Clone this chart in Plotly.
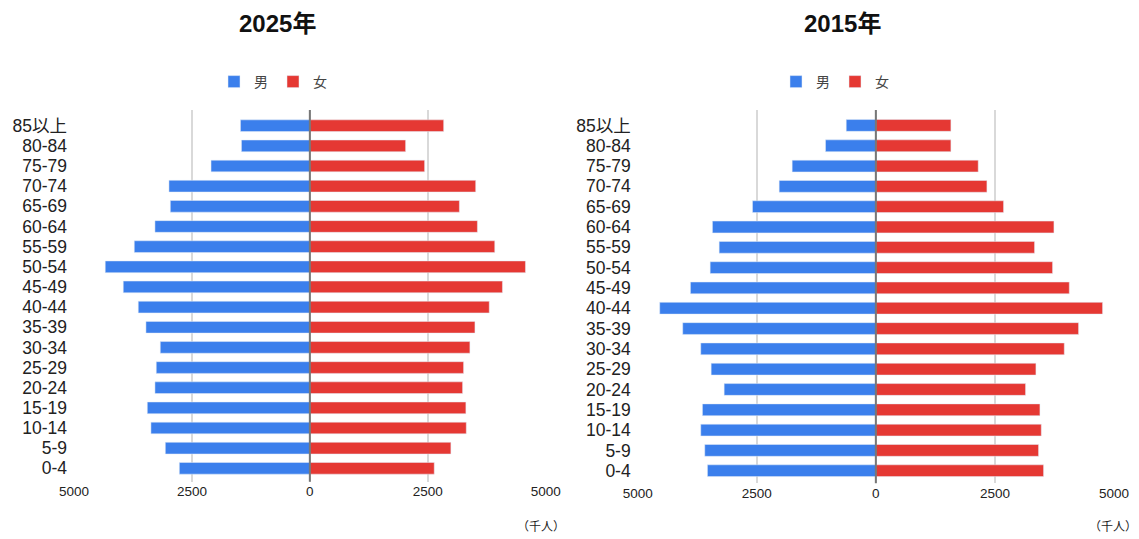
import plotly.graph_objects as go

ages = ["0-4", "5-9", "10-14", "15-19", "20-24", "25-29", "30-34", "35-39", "40-44",
        "45-49", "50-54", "55-59", "60-64", "65-69", "70-74", "75-79", "80-84", "85以上"]

# 2025 (thousand persons), listed from 0-4 upward
male_2025 = [2767, 3064, 3369, 3446, 3284, 3256, 3171, 3475, 3638,
             3956, 4338, 3722, 3284, 2958, 2987, 2095, 1450, 1471]
female_2025 = [2637, 2990, 3316, 3308, 3238, 3259, 3393, 3500, 3803,
               4083, 4571, 3920, 3552, 3170, 3516, 2433, 2030, 2837]

# 2015
male_2015 = [3536, 3592, 3676, 3641, 3185, 3458, 3676, 4055, 4538,
             3893, 3479, 3290, 3431, 2590, 2030, 1757, 1057, 622]
female_2015 = [3521, 3416, 3473, 3445, 3143, 3361, 3956, 4256, 4760,
               4061, 3710, 3332, 3739, 2681, 2332, 2149, 1576, 1576]

tick_vals = [-5000, -2500, 0, 2500, 5000]
tick_text = ["5000", "2500", "0", "2500", "5000"]

BLUE = "#3b7fec"
RED = "#e53833"
FONT = "Liberation Sans, Arial, Noto Sans CJK JP, sans-serif"

# the page body adds an 8px offset; compensate so the screenshot lines up
OFF = 8
W, H = 1139 - OFF, 539 - OFF


def px(v):
    return (v - OFF) / W


def py(v):
    return 1 - (v - OFF) / H


fig = go.Figure()

fig.add_trace(go.Bar(y=ages, x=[-v for v in male_2025], orientation="h", name="男",
                     marker_color=BLUE, xaxis="x", yaxis="y", legend="legend",
                     hoverinfo="skip"))
fig.add_trace(go.Bar(y=ages, x=female_2025, orientation="h", name="女",
                     marker_color=RED, xaxis="x", yaxis="y", legend="legend",
                     hoverinfo="skip"))
fig.add_trace(go.Bar(y=ages, x=[-v for v in male_2015], orientation="h", name="男",
                     marker_color=BLUE, xaxis="x2", yaxis="y2", legend="legend2",
                     hoverinfo="skip"))
fig.add_trace(go.Bar(y=ages, x=female_2015, orientation="h", name="女",
                     marker_color=RED, xaxis="x2", yaxis="y2", legend="legend2",
                     hoverinfo="skip"))

xcommon = dict(range=[-5000, 5000], tickvals=tick_vals, ticktext=tick_text,
               showgrid=True, gridcolor="#d9d9d9", gridwidth=1.5, zeroline=False,
               showline=False, ticks="", tickfont=dict(size=13.5, color="#222", family=FONT),
               fixedrange=True, automargin=False)
ycommon = dict(type="category", categoryorder="array", categoryarray=ages,
               tickmode="array", tickvals=ages, ticktext=ages,
               showgrid=False, zeroline=False, showline=False, ticks="",
               tickfont=dict(size=17.5, color="#222", family=FONT),
               ticklabelstandoff=6, fixedrange=True, automargin=False)

fig.update_layout(
    width=W, height=H,
    margin=dict(l=0, r=0, t=0, b=0),
    paper_bgcolor="white", plot_bgcolor="white",
    barmode="relative", bargap=0.42,
    font=dict(family=FONT),
    xaxis=dict(domain=[px(74), px(545.7)], anchor="y", **xcommon),
    yaxis=dict(domain=[py(481.7), py(110)], anchor="x", range=[-0.665, 17.78], **ycommon),
    xaxis2=dict(domain=[px(637.7), px(1114)], anchor="y2", **xcommon),
    yaxis2=dict(domain=[py(483.3), py(110)], anchor="x2", range=[-0.62, 17.76], **ycommon),
    legend=dict(orientation="h", x=px(214), xanchor="left", y=py(82), yanchor="middle",
                font=dict(size=14, color="#444", family=FONT), bgcolor="rgba(0,0,0,0)"),
    legend2=dict(orientation="h", x=px(776), xanchor="left", y=py(82), yanchor="middle",
                 font=dict(size=14, color="#444", family=FONT), bgcolor="rgba(0,0,0,0)"),
    showlegend=True,
    annotations=[
        dict(text="<b>2025年</b>", x=px(277), y=py(24), xref="paper", yref="paper",
             showarrow=False, xanchor="center", yanchor="middle",
             font=dict(size=24, color="#111", family=FONT)),
        dict(text="<b>2015年</b>", x=px(842), y=py(24), xref="paper", yref="paper",
             showarrow=False, xanchor="center", yanchor="middle",
             font=dict(size=24, color="#111", family=FONT)),
        dict(text="（千人）", x=px(541), y=py(527), xref="paper", yref="paper",
             showarrow=False, xanchor="center", yanchor="middle",
             font=dict(size=12, color="#222", family=FONT)),
        dict(text="（千人）", x=px(1113), y=py(527), xref="paper", yref="paper",
             showarrow=False, xanchor="center", yanchor="middle",
             font=dict(size=12, color="#222", family=FONT)),
    ],
    shapes=[
        dict(type="line", xref="x", yref="y domain", x0=0, x1=0, y0=0, y1=1,
             line=dict(color="#777", width=2), layer="above"),
        dict(type="line", xref="x2", yref="y2 domain", x0=0, x1=0, y0=0, y1=1,
             line=dict(color="#777", width=2), layer="above"),
    ],
)

fig.write_html("out.html")
